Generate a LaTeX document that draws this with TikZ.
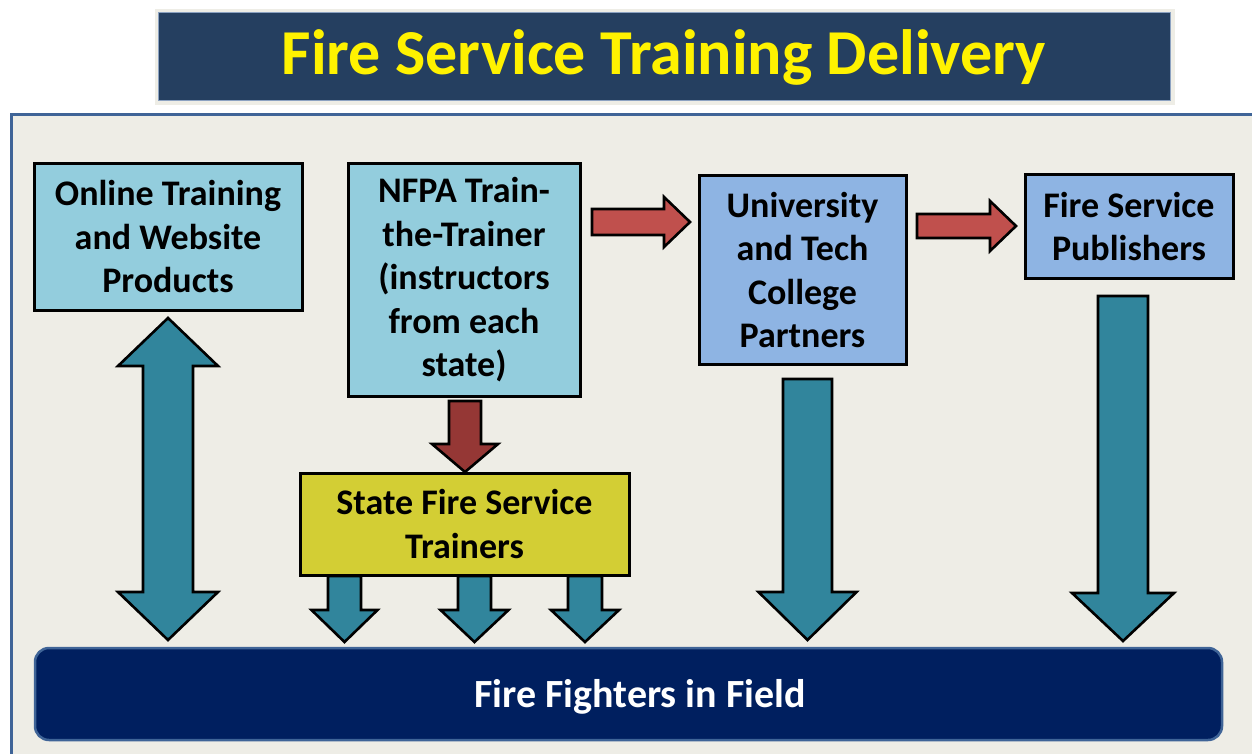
\documentclass[tikz,border=0pt]{standalone}
\usepackage{fontspec}
\setmainfont{Carlito}
\definecolor{titlebg}{HTML}{253F60}
\definecolor{titleedge}{HTML}{EEEDE6}
\definecolor{panel}{HTML}{EEEDE6}
\definecolor{panelborder}{HTML}{3F6497}
\definecolor{lightblue}{HTML}{93CDDD}
\definecolor{medblue}{HTML}{8EB4E3}
\definecolor{statefill}{HTML}{D3CE34}
\definecolor{teal}{HTML}{31859C}
\definecolor{darkred}{HTML}{953735}
\definecolor{lightred}{HTML}{C0504D}
\definecolor{navy}{HTML}{001F5F}
\tikzset{
  box/.style={draw=black, line width=3pt, rectangle, align=center, inner sep=0pt,
    font=\fontsize{36}{43.5}\selectfont\bfseries},
  blockarrow/.style={draw=black, line width=2.6pt, line join=miter},
}
% down arrow: #1 style, #2 center x, #3 top y, #4 tip y, #5 half shaft, #6 half head, #7 head length
\newcommand\downblock[7]{%
  \draw[blockarrow,#1] ({#2-#5},#3) -- ({#2+#5},#3) -- ({#2+#5},{#4-#7}) -- ({#2+#6},{#4-#7})
    -- (#2,#4) -- ({#2-#6},{#4-#7}) -- ({#2-#5},{#4-#7}) -- cycle;}
% right arrow: #1 style, #2 center y, #3 left x, #4 tip x, #5 half shaft, #6 half head, #7 head length
\newcommand\rightblock[7]{%
  \draw[blockarrow,#1] (#3,{#2-#5}) -- ({#4-#7},{#2-#5}) -- ({#4-#7},{#2-#6}) -- (#4,#2)
    -- ({#4-#7},{#2+#6}) -- ({#4-#7},{#2+#5}) -- (#3,{#2+#5}) -- cycle;}
\begin{document}
\begin{tikzpicture}[x=1pt,y=-1pt]
\useasboundingbox (0,0) rectangle (1252,754);
\fill[white] (0,0) rectangle (1252,754);
% title
\fill[titleedge] (155,9) rectangle (1175,105);
\node[draw=panelborder!60, line width=1pt, fill=titlebg, minimum width=1012pt, minimum height=88pt,
  inner sep=0pt, text=yellow, font=\fontsize{64}{70}\selectfont\bfseries] (title) at (664,57)
  {Fire Service Training Delivery};
% panel
\fill[panel] (11.5,114.5) rectangle (1260,765);
\draw[panelborder, line width=3pt] (1260,114.5) -- (11.5,114.5) -- (11.5,765);
% boxes
\node[box, fill=lightblue, minimum width=268pt, minimum height=146pt] (online) at (168,237)
  {Online Training\\and Website\\Products};
\node[box, fill=lightblue, minimum width=232pt, minimum height=232pt] (nfpa) at (464,280)
  {NFPA Train-\\the-Trainer\\(instructors\\from each\\state)};
\node[box, fill=medblue, minimum width=207pt, minimum height=188pt] (univ) at (802.5,270)
  {University\\and Tech\\College\\Partners};
\node[box, fill=medblue, minimum width=208pt, minimum height=103pt] (pub) at (1129,226.5)
  {Fire Service\\Publishers};
\node[box, fill=statefill, minimum width=329pt, minimum height=102pt] (state) at (464.5,524)
  {State Fire Service\\Trainers};
\node[draw=panelborder, line width=2.5pt, fill=navy, rounded corners=14pt, minimum width=1187pt,
  minimum height=92pt] (field) at (628.5,694) {};
\node[text=white, font=\fontsize{40}{48}\selectfont\bfseries] (fieldtext) at (640,697)
  {Fire Fighters in Field};
% red arrows
\downblock{fill=darkred}{465}{401}{472}{16}{33}{28}
\rightblock{fill=lightred}{222}{592}{690}{13}{25}{26}
\rightblock{fill=lightred}{226}{917}{1016}{12}{25}{26}
% double arrow for online
\draw[blockarrow, fill=teal] (168,318) -- (218,366) -- (193,366) -- (193,592) -- (218,592)
  -- (168,640) -- (118,592) -- (143,592) -- (143,366) -- (118,366) -- cycle;
% down teal arrows
\downblock{fill=teal}{344.5}{576}{642}{16.5}{33}{32}
\downblock{fill=teal}{474.5}{576}{642}{16.5}{34}{32}
\downblock{fill=teal}{585}{576}{642}{17}{34}{32}
\downblock{fill=teal}{807.5}{379}{640}{24.5}{49}{48}
\downblock{fill=teal}{1123}{296}{641}{25}{51}{48}
\end{tikzpicture}
\end{document}
